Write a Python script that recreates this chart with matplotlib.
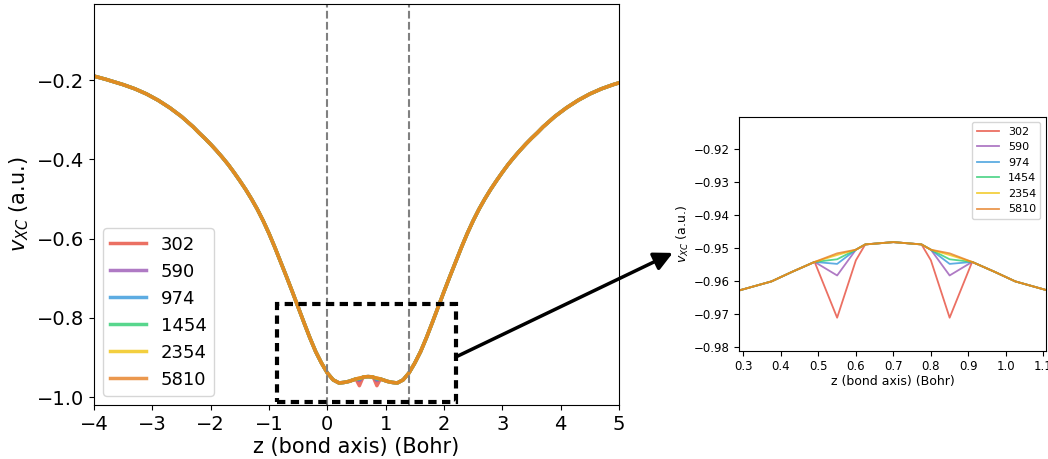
import matplotlib
matplotlib.use('Agg')
import matplotlib.pyplot as plt
from matplotlib.patches import Rectangle

# grid sizes (legend labels) and line colours
grids = ['302', '590', '974', '1454', '2354', '5810']
colors = ['#e74c3c', '#9b59b6', '#3498db', '#2ecc71', '#f1c40f', '#e67e22']

# z along the bond axis (Bohr)
z = [-4.0, -3.9, -3.8, -3.7, -3.6, -3.5, -3.3, -3.1, -2.9, -2.7,
     -2.5, -2.3, -2.2, -2.1, -2.0, -1.9, -1.8, -1.7, -1.6, -1.5,
     -1.4, -1.3, -1.2, -1.1, -1.0, -0.9, -0.8, -0.7, -0.6, -0.5,
     -0.4, -0.3, -0.2, -0.1, 0.0, 0.1, 0.2, 0.29, 0.375, 0.43,
     0.49, 0.55, 0.6, 0.625, 0.7, 0.775, 0.8, 0.85, 0.91, 0.97,
     1.025, 1.11, 1.2, 1.3, 1.4, 1.5, 1.6, 1.7, 1.8, 1.9,
     2.0, 2.1, 2.2, 2.3, 2.4, 2.5, 2.6, 2.7, 2.8, 2.9,
     3.0, 3.1, 3.2, 3.3, 3.4, 3.5, 3.6, 3.7, 3.9, 4.1,
     4.3, 4.5, 4.7, 4.9, 5.0]

# converged v_xc (finest grid, 5810 points)
v_ref = [-0.1900, -0.1940, -0.1980, -0.2025, -0.2070, -0.2115, -0.2220, -0.2350, -0.2510, -0.2700,
         -0.2920, -0.3180, -0.3330, -0.3470, -0.3620, -0.3780, -0.3950, -0.4130, -0.4330, -0.4540,
         -0.4760, -0.5000, -0.5260, -0.5550, -0.5870, -0.6220, -0.6590, -0.6960, -0.7340, -0.7730,
         -0.8120, -0.8500, -0.8850, -0.9140, -0.9390, -0.9565, -0.9643, -0.9629, -0.9602, -0.9573,
         -0.9543, -0.9517, -0.9506, -0.9490, -0.9483, -0.9490, -0.9506, -0.9517, -0.9543, -0.9573,
         -0.9602, -0.9629, -0.9643, -0.9565, -0.9390, -0.9140, -0.8850, -0.8500, -0.8120, -0.7730,
         -0.7340, -0.6960, -0.6590, -0.6220, -0.5870, -0.5550, -0.5260, -0.5000, -0.4760, -0.4540,
         -0.4330, -0.4130, -0.3950, -0.3780, -0.3620, -0.3470, -0.3330, -0.3180, -0.2920, -0.2700,
         -0.2510, -0.2350, -0.2220, -0.2115, -0.2070]

# values that differ from v_ref for the coarser grids: {z: value}
dips = {
    '302':  {0.55: -0.9712, 0.6: -0.9538, 0.8: -0.9538, 0.85: -0.9712},
    '590':  {0.55: -0.9584, 0.85: -0.9584},
    '974':  {0.55: -0.9549, 0.85: -0.9549},
    '1454': {0.55: -0.9535, 0.85: -0.9535},
    '2354': {0.55: -0.9522, 0.85: -0.9522},
    '5810': {},
}

inset_xticks = [0.3, 0.4, 0.5, 0.6, 0.7, 0.8, 0.9, 1.0, 1.1]

series = {}
for g in grids:
    series[g] = [dips[g].get(zz, vv) for zz, vv in zip(z, v_ref)]

fig = plt.figure(figsize=(10.48, 4.59), dpi=100)
ax = fig.add_axes([0.0897, 0.1176, 0.5009, 0.8737])
axin = fig.add_axes([0.7054, 0.2359, 0.2927, 0.5099])

# main panel
for g, c in zip(grids, colors):
    ax.plot(z, series[g], color=c, alpha=0.8, lw=2.5, label=g)
ax.axvline(0.0, color='gray', ls='--', lw=1.5)
ax.axvline(1.4, color='gray', ls='--', lw=1.5)
ax.add_patch(Rectangle((-0.86, -1.012), 3.06, 0.247, fill=False, ec='black',
                       lw=3, ls=(0, (2, 1.3)), clip_on=False, zorder=5))
ax.set_xlim(-4, 5)
ax.set_ylim(-1.02, -0.008)
ax.set_xticks(range(-4, 6))
ax.set_yticks([-1.0, -0.8, -0.6, -0.4, -0.2])
ax.tick_params(labelsize=14)
ax.set_xlabel('z (bond axis) (Bohr)', fontsize=15, labelpad=2)
ax.set_ylabel('$v_{XC}$ (a.u.)', fontsize=15)
ax.legend(loc='lower left', fontsize=13)

# zoomed panel
for g, c in zip(grids, colors):
    axin.plot(z, series[g], color=c, alpha=0.8, lw=1.3, label=g)
axin.set_xlim(0.289, 1.107)
axin.set_ylim(-0.9812, -0.9103)
axin.set_xticks(inset_xticks)
axin.tick_params(labelsize=8.5)
axin.set_xlabel('z (bond axis) (Bohr)', fontsize=9, labelpad=1)
axin.set_ylabel('$v_{XC}$ (a.u.)', fontsize=9, labelpad=2)
axin.legend(loc='upper right', fontsize=8)

# arrow from the box to the inset
ax.annotate('', xy=(0.642, 0.449), xycoords='figure fraction',
            xytext=(2.2, -0.899), textcoords='data',
            arrowprops=dict(arrowstyle='-|>', color='black', lw=2.5,
                            mutation_scale=28, shrinkA=0, shrinkB=0),
            annotation_clip=False)

fig.savefig('out.png', dpi=100)
